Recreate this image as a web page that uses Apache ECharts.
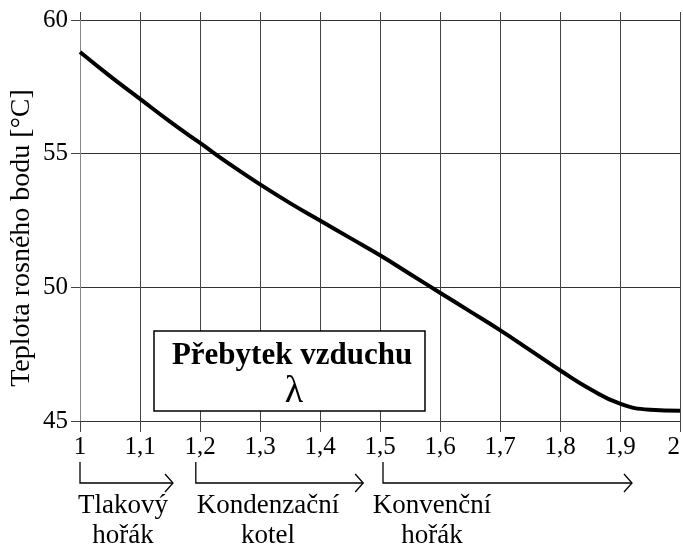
<!DOCTYPE html>
<html>
<head>
<meta charset="utf-8">
<script src="https://cdn.jsdelivr.net/npm/echarts@6/dist/echarts.min.js"></script>
<style>
  html, body { margin: 0; padding: 0; background: #fff; }
  #chart { width: 683px; height: 549px; }
</style>
</head>
<body>
<div id="chart"></div>
<script>
// přebytek vzduchu λ
const lambdaValues = [1.0, 1.05, 1.1, 1.15, 1.2, 1.25, 1.3, 1.35, 1.4, 1.45, 1.5,
  1.55, 1.6, 1.65, 1.7, 1.75, 1.8, 1.85, 1.9, 1.95, 2.0];
// teplota rosného bodu [°C]
const dewPoint = [58.8, 57.9, 57.05, 56.2, 55.4, 54.6, 53.85, 53.15, 52.5, 51.85, 51.2,
  50.5, 49.8, 49.1, 48.4, 47.65, 46.9, 46.2, 45.65, 45.42, 45.38];
// úseky pod osou x
const ranges = [
  { from: 1.0, to: 1.155, label: "Tlakový\nhořák" },
  { from: 1.193, to: 1.472, label: "Kondenzační\nkotel" },
  { from: 1.505, to: 1.92, label: "Konvenční\nhořák" },
];

const font = "Liberation Serif";
const chart = echarts.init(document.getElementById("chart"));
const gridColor = "#444";

const option = {
  animation: false,
  textStyle: { fontFamily: font },
  grid: { left: 80, right: 3, top: 20, bottom: 128, outerBoundsMode: "none", containLabel: false },
  xAxis: [
    {
      type: "value",
      min: 1,
      max: 2,
      interval: 0.1,
      axisLine: { show: false },
      axisTick: { show: true, length: 11, lineStyle: { color: gridColor } },
      axisLabel: {
        color: "#000",
        fontSize: 25,
        margin: 14,
        alignMaxLabel: "right",
        formatter: (v) => String(+v.toFixed(1)).replace(".", ","),
      },
      splitLine: { show: true, lineStyle: { color: gridColor, width: 1 } },
    },
    {
      // jen přesah svislých čar nad graf
      type: "value",
      position: "top",
      min: 1,
      max: 2,
      interval: 0.1,
      axisLine: { show: false },
      axisTick: { show: true, length: 8, lineStyle: { color: gridColor } },
      axisLabel: { show: false },
      splitLine: { show: false },
    },
  ],
  yAxis: {
    type: "value",
    min: 45,
    max: 60,
    interval: 5,
    axisLine: { show: true, lineStyle: { color: "#888" } },
    axisTick: { show: true, length: 9, lineStyle: { color: gridColor } },
    axisLabel: { color: "#000", fontSize: 25, margin: 12 },
    splitLine: { show: true, lineStyle: { color: "#333", width: 1 } },
  },
  series: [
    {
      type: "line",
      data: lambdaValues.map((x, i) => [x, dewPoint[i]]),
      smooth: true,
      showSymbol: false,
      lineStyle: { color: "#000", width: 4 },
      z: 5,
    },
  ],
};
chart.setOption(option);

// rámeček, popisky a šipky pod osou
const graphics = [
  {
    type: "text",
    x: 22, y: 238,
    rotation: Math.PI / 2,
    style: { text: "Teplota rosného bodu [°C]", font: "28px " + font, fill: "#000", textAlign: "center", textVerticalAlign: "middle" },
  },
  {
    type: "rect",
    shape: { x: 154, y: 331, width: 271, height: 80 },
    style: { fill: "#fff", stroke: "#000", lineWidth: 1.5 },
    z: 10,
  },
  {
    type: "text",
    x: 292, y: 356,
    style: { text: "Přebytek vzduchu", font: "bold 31px " + font, fill: "#000", textAlign: "center", textVerticalAlign: "middle" },
    z: 11,
  },
  {
    type: "text",
    x: 294, y: 392,
    style: { text: "λ", font: "38px " + font, fill: "#000", textAlign: "center", textVerticalAlign: "middle" },
    z: 11,
  },
];
const arrowY = 483;
ranges.forEach((r) => {
  const x0 = chart.convertToPixel({ gridIndex: 0 }, [r.from, 45])[0];
  const x1 = chart.convertToPixel({ gridIndex: 0 }, [r.to, 45])[0];
  graphics.push({
    type: "polyline",
    shape: { points: [[x0, 462], [x0, arrowY], [x1, arrowY]] },
    style: { stroke: "#000", lineWidth: 1.3, fill: null },
  });
  graphics.push({
    type: "polyline",
    shape: { points: [[x1 - 8, arrowY - 9], [x1, arrowY], [x1 - 8, arrowY + 9]] },
    style: { stroke: "#000", lineWidth: 1.3, fill: null },
  });
});
const labelX = [123, 268, 432];
ranges.forEach((r, i) => {
  graphics.push({
    type: "text",
    x: labelX[i], y: 491,
    style: { text: r.label, font: "27px " + font, fill: "#000", textAlign: "center", lineHeight: 30 },
  });
});
chart.setOption({ graphic: graphics });
</script>
</body>
</html>
